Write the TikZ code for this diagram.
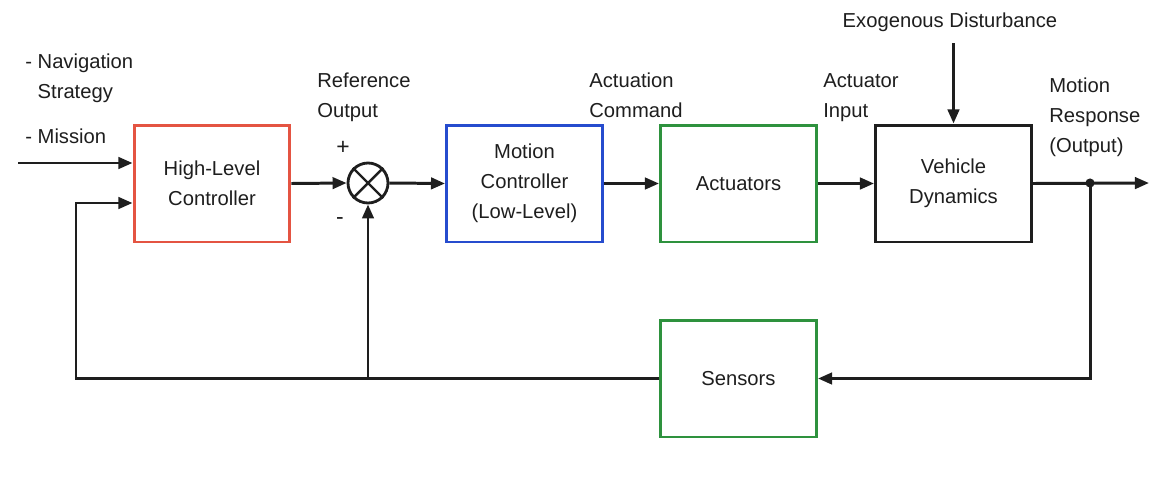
\documentclass[tikz,border=0pt]{standalone}
\usepackage{fontspec}
\setmainfont{Liberation Sans}
\usetikzlibrary{arrows.meta,shapes.geometric}
\definecolor{hlred}{RGB}{228,84,66}
\definecolor{mcblue}{RGB}{38,76,206}
\definecolor{acgreen}{RGB}{46,146,62}
\definecolor{ink}{RGB}{30,30,30}
\tikzset{
  block/.style={draw, line width=1.7pt, minimum width=3.12cm, minimum height=2.34cm,
    align=center, font=\fontsize{11.5pt}{17pt}\selectfont, text=ink},
  lbl/.style={inner sep=0pt, align=left, font=\fontsize{11.5pt}{17pt}\selectfont, text=ink},
  arr/.style={draw=ink, line width=1.7pt, -{Triangle[length=8pt,width=6.5pt]}},
  wire/.style={draw=ink, line width=1.7pt},
  sumj/.style={circle, draw=ink, line width=1.6pt, minimum size=0.8cm, inner sep=0pt}
}
\begin{document}
\begin{tikzpicture}[x=0.02cm, y=-0.02cm]
\useasboundingbox[fill=white] (0,0) rectangle (1159,484);

% blocks
\node[block, draw=hlred]   (hlc)  at (212,183.5) {High-Level\\Controller};
\node[sumj]                (sum)  at (368,183) {};
\draw[wire, line width=1.4pt] (sum.north west) -- (sum.south east)
                              (sum.north east) -- (sum.south west);
\node[block, draw=mcblue]  (mc)   at (524.5,183.5) {Motion\\Controller\\(Low-Level)};
\node[block, draw=acgreen] (act)  at (738.5,183.5) {Actuators};
\node[block, draw=ink]     (vd)   at (953.5,183.5) {Vehicle\\Dynamics};
\node[block, draw=acgreen] (sens) at (738.5,378.5) {Sensors};

% signal labels (base anchor sits on the last line)
\node[lbl, anchor=base west] (nav) at (25,98) {- Navigation\\\phantom{- }Strategy};
\node[lbl, anchor=base west] (mis) at (25,143) {- Mission};
\node[lbl, anchor=base west] (refo) at (317,117) {Reference\\Output};
\node[lbl, anchor=base west] (acmd) at (589,117) {Actuation\\Command};
\node[lbl, anchor=base west] (ainp) at (823,117) {Actuator\\Input};
\node[lbl, anchor=base west] (mresp) at (1049,152) {Motion\\Response\\(Output)};
\node[lbl, anchor=base] (dist) at (950,27) {Exogenous Disturbance};
\node[lbl, font=\fontsize{13pt}{15pt}\selectfont] (plus) at (343,148) {+};
\node[lbl, font=\fontsize{13pt}{15pt}\selectfont] (minus) at (340,221) {-};

% points on the wiring
\coordinate (inL)  at (18,163);
\coordinate (fbL)  at (76,203);
\coordinate (dtop) at (953.5,43);
\coordinate (outR) at (1149,183);
\coordinate (tap)  at (1090,183);

% forward path
\draw[arr] (inL) -- (inL -| hlc.west);
\draw[arr] (hlc.east) -- (sum.west);
\draw[arr] (sum.east) -- (mc.west);
\draw[arr] (mc.east) -- (act.west);
\draw[arr] (act.east) -- (vd.west);
\draw[arr] (vd.east) -- (outR);
\draw[arr] (dtop) -- (vd.north);

% feedback path
\fill[ink] (tap) circle (2.6pt);
\draw[arr] (tap) |- (sens.east);
\draw[arr] (sens.west) -| (fbL) -- (fbL -| hlc.west);
\draw[arr] (sens.west -| sum.south) -- (sum.south);
\end{tikzpicture}
\end{document}
